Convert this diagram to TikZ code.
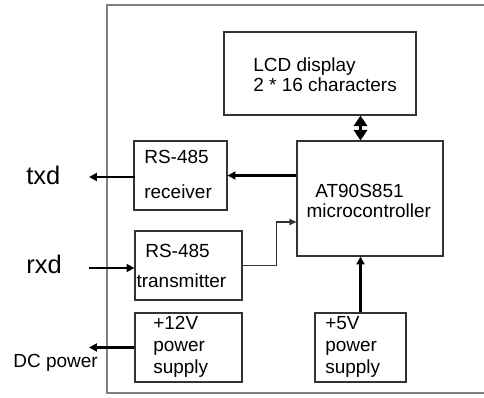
\documentclass[tikz,border=0pt]{standalone}
\usepackage{fontspec}
\setmainfont{Liberation Sans}
\usetikzlibrary{positioning,arrows.meta,calc}
\definecolor{frameline}{HTML}{808080}
\definecolor{boxline}{HTML}{333333}
\tikzset{
    unit/.style={rectangle, draw=boxline, line width=0.6pt, inner sep=0pt},
    txt/.style={anchor=base west, inner sep=0pt, align=left, font=\fontsize{10.8}{11.3}\selectfont},
    sig/.style={anchor=base west, inner sep=0pt, font=\fontsize{14.5}{17}\selectfont},
    arrow/.style={-{Triangle[length=4.5pt, width=4.5pt]}, line width=1.2pt},
    thinarrow/.style={-{Triangle[length=4pt, width=3.5pt]}, line width=0.6pt, draw=boxline},
    bus/.style={{Triangle[length=6pt, width=7.5pt]}-{Triangle[length=6pt, width=7.5pt]}, line width=2.2pt}
}

\begin{document}
\begin{tikzpicture}[x=0.02cm, y=-0.02cm]
\useasboundingbox (0,0) rectangle (484,397);
\clip (0,0) rectangle (484,397);

% outer frame, right side lies outside the picture
\draw[frameline, line width=0.8pt] (500,5) -- (107,5) -- (107,393) -- (500,393);

% blocks
\node[unit, minimum width=3.84cm, minimum height=1.66cm] (lcd) at (320,73.5) {};
\node[unit, minimum width=2.92cm, minimum height=2.3cm] (micro) at (370,198.5) {};
\node[unit, minimum width=1.86cm, minimum height=1.38cm] (rx) at (180.5,175.5) {};
\node[unit, minimum width=2.14cm, minimum height=1.38cm] (tx) at (188.5,265.5) {};
\node[unit, minimum width=2.14cm, minimum height=1.38cm] (ps12) at (188.5,347.5) {};
\node[unit, minimum width=1.82cm, minimum height=1.38cm] (ps5) at (360.5,347.5) {};

% texts (anchored on the baseline of their last line)
\node[txt] (lcdtext) at (253,91) {LCD display\\2 * 16 characters};
\node[txt] (microtext) at (315,217) {AT90S851\\[-0.2pt]\hspace{-5pt}microcontroller};
\node[txt] (rxtext) at (144,198) {RS-485\\[8.5pt]receiver};
\node[txt] (txtext) at (145,287) {RS-485\\[5.7pt]\hspace{-5pt}transmitter};
\node[txt] (ps12text) at (153,373) {+12V\\[1pt]power\\[1pt]supply};
\node[txt] (ps5text) at (325,373) {+5V\\[1pt]power\\[1pt]supply};
\node[sig] (txd) at (26,184) {txd};
\node[sig] (rxd) at (26,273) {rxd};
\node[txt] (dc) at (13,367) {DC power};

\coordinate (txdend) at (89,177);
\coordinate (rxdstart) at (89,268);
\coordinate (dcend) at (89,347.5);

% connections
\draw[bus] (lcd.south -| ps5.north) -- (micro.north -| ps5.north);
\draw[arrow] (rx.east -| micro.west) -- (rx.east);
\draw[arrow] (rx.west) -- (txdend -| rx.west) -- (txdend);
\draw[arrow] (rxdstart) -- (rxdstart -| tx.west);
\draw[thinarrow] (tx.east) -- ++(34,0) |- ($(micro.west)+(0,23.5)$);
\draw[arrow] (ps5.north) -- (ps5.north |- micro.south);
\draw[arrow] (ps12.west) -- (dcend);

\end{tikzpicture}
\end{document}
